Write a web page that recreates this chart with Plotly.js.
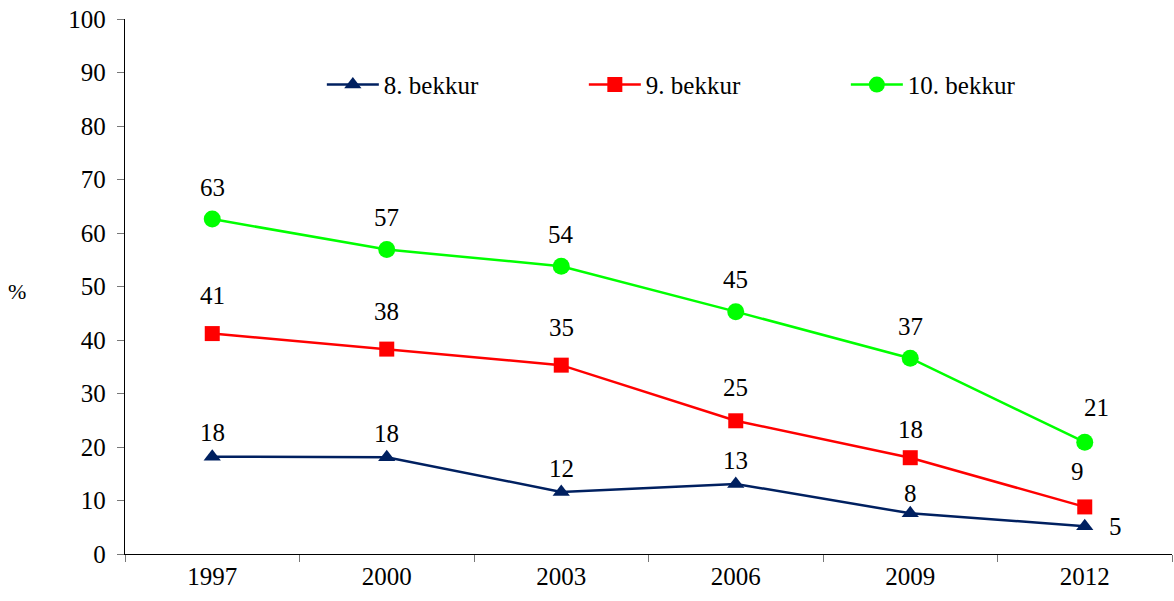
<!DOCTYPE html>
<html>
<head>
<meta charset="utf-8">
<script src="https://cdn.plot.ly/plotly-3.0.1.min.js"></script>
<style>html,body{margin:0;padding:0;background:#fff;font-family:"Liberation Serif","Times New Roman",serif}#chart{width:1174px;height:601px}#chart svg text{font-family:"Liberation Serif","Times New Roman",serif !important}</style>
</head>
<body>
<div id="chart"></div>
<script>
const years = ['1997', '2000', '2003', '2006', '2009', '2012'];
const seriesNames = ['8. bekkur', '9. bekkur', '10. bekkur'];
const bekkur8 = [18.2, 18.1, 11.6, 13.1, 7.6, 5.2];
const bekkur9 = [41.2, 38.3, 35.3, 24.9, 18.0, 8.8];
const bekkur10 = [62.6, 56.9, 53.8, 45.3, 36.6, 20.9];
const yTicks = [0, 10, 20, 30, 40, 50, 60, 70, 80, 90, 100];

const FONT = 'Times New Roman';
const colors = ['#002060', '#FF0000', '#00FF00'];
const symbols = ['triangle-up', 'square', 'circle'];
const sizes = [15, 15, 17];
const allSeries = [bekkur8, bekkur9, bekkur10];

// label offsets (style): default per series, with a few exceptions
const defaultShift = [24, 38, 32];
const specialShift = {
  '0-5': {x: 31, y: 0},
  '1-5': {x: -7, y: 35},
  '2-5': {x: 12, y: 35},
  '1-4': {x: 0, y: 28},
  '1-3': {x: 0, y: 33},
  '0-4': {x: 0, y: 20},
  '0-2': {x: 0, y: 23},
  '0-3': {x: 0, y: 23}
};

const traces = allSeries.map((vals, i) => ({
  type: 'scatter',
  mode: 'lines+markers',
  name: seriesNames[i],
  x: years,
  y: vals,
  line: {color: colors[i], width: 2.5},
  marker: {color: colors[i], symbol: symbols[i], size: sizes[i]},
  cliponaxis: false
}));

const annotations = [];
allSeries.forEach((vals, i) => {
  vals.forEach((v, j) => {
    const sp = specialShift[i + '-' + j] || {x: 0, y: defaultShift[i]};
    annotations.push({
      x: j, y: v, xref: 'x', yref: 'y',
      text: String(Math.round(v)),
      showarrow: false,
      xshift: sp.x, yshift: sp.y,
      font: {family: FONT, size: 25, color: '#000'}
    });
  });
});
annotations.push({
  xref: 'paper', yref: 'paper', x: -0.103, y: 0.49,
  xanchor: 'center', yanchor: 'middle',
  text: '%', showarrow: false,
  font: {family: FONT, size: 22, color: '#000'}
});

const layout = {
  width: 1174, height: 601,
  margin: {l: 125, r: 2, t: 19, b: 47},
  paper_bgcolor: '#fff', plot_bgcolor: '#fff',
  font: {family: FONT, size: 25, color: '#000'},
  showlegend: true,
  legend: {
    orientation: 'h',
    x: 0.188, y: 0.877, xanchor: 'left', yanchor: 'middle',
    entrywidth: 195,
    itemwidth: 52,
    font: {family: FONT, size: 25, color: '#000'},
    bgcolor: 'rgba(0,0,0,0)'
  },
  xaxis: {
    type: 'category',
    range: [-0.5, 5.5],
    tickson: 'boundaries',
    ticks: 'outside', ticklen: 7, tickcolor: '#777', tickwidth: 1,
    showline: true, linecolor: '#000', linewidth: 1.3,
    showgrid: false, zeroline: false,
    tickfont: {family: FONT, size: 25, color: '#000'}
  },
  yaxis: {
    range: [0, 100],
    tickvals: yTicks,
    ticks: 'outside', ticklen: 7, tickcolor: '#777', tickwidth: 1,
    showline: true, linecolor: '#000', linewidth: 1.3,
    showgrid: false, zeroline: false,
    ticklabelstandoff: 6,
    tickfont: {family: FONT, size: 25, color: '#000'}
  },
  annotations: annotations
};

function applySerif() {
  document.querySelectorAll('#chart svg text').forEach(function(t) {
    t.style.setProperty('font-family', '"Liberation Serif", "Times New Roman", serif', 'important');
  });
}

Plotly.newPlot('chart', traces, layout, {displayModeBar: false}).then(function(gd) {
  applySerif();
  gd.setAttribute('data-ready', '1');
});
</script>
</body>
</html>
